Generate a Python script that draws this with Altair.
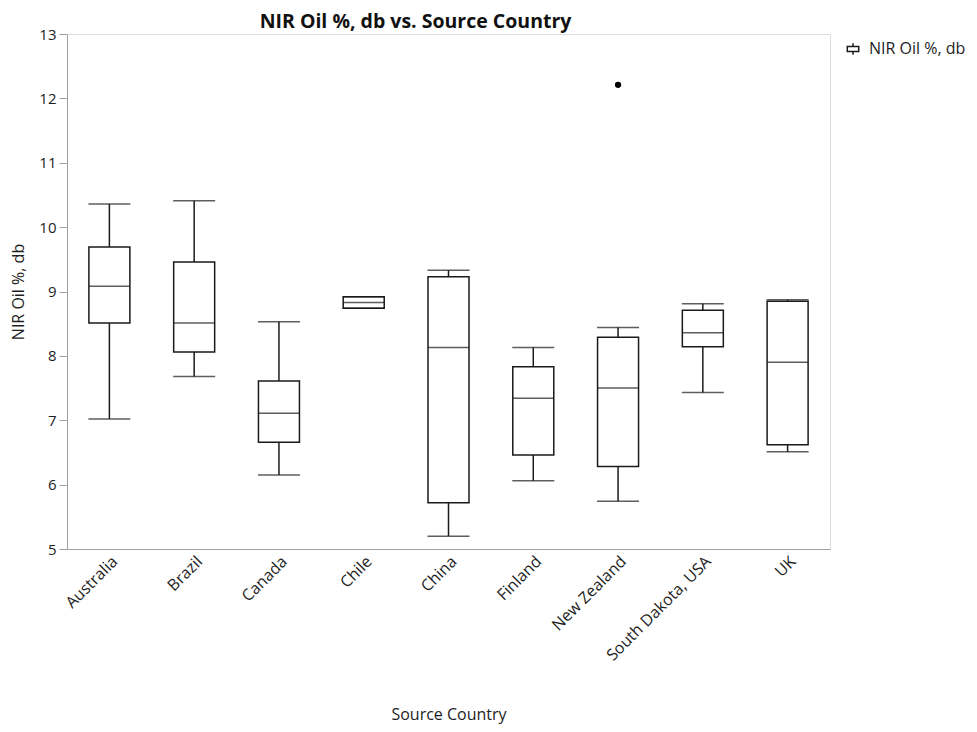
import altair as alt
import pandas as pd

countries = ["Australia", "Brazil", "Canada", "Chile", "China", "Finland",
             "New Zealand", "South Dakota, USA", "UK"]
whisker_low = [7.02, 7.68, 6.15, 8.74, 5.20, 6.06, 5.74, 7.43, 6.51]
q1 = [8.51, 8.06, 6.66, 8.74, 5.72, 6.46, 6.28, 8.14, 6.62]
median = [9.08, 8.51, 7.11, 8.83, 8.13, 7.34, 7.50, 8.36, 7.90]
q3 = [9.69, 9.46, 7.61, 8.92, 9.23, 7.83, 8.29, 8.71, 8.85]
whisker_high = [10.36, 10.41, 8.53, 8.92, 9.33, 8.13, 8.44, 8.81, 8.87]
outlier_country = ["New Zealand"]
outlier_value = [12.21]
series_name = "NIR Oil %, db"

df = pd.DataFrame({
    "country": countries, "lo": whisker_low, "q1": q1, "med": median,
    "q3": q3, "hi": whisker_high, "series": [series_name] * len(countries),
})
df_out = pd.DataFrame({"country": outlier_country, "value": outlier_value})

FONT = "Open Sans"
LINE = "#1a1a1a"
GRAY = "#a0a0a0"
TXT = "#1e1e1e"

x_enc = alt.X("country:N", sort=countries, scale=alt.Scale(paddingInner=0, paddingOuter=0),
              axis=alt.Axis(title="Source Country", labelAngle=-45, ticks=False,
                            labelPadding=4, titlePadding=43, domainColor=GRAY,
                            labelFontSize=16, titleFontSize=16, titleFontWeight="normal",
                            labelColor=TXT, titleColor=TXT, labelFont=FONT, titleFont=FONT))
y_scale = alt.Scale(domain=[5, 13], nice=False, zero=False)
y_axis = alt.Axis(title="NIR Oil %, db", values=list(range(5, 14)), grid=False,
                  tickSize=8, tickColor=GRAY, domainColor=GRAY, labelPadding=3,
                  titlePadding=12, labelFontSize=15, titleFontSize=16,
                  titleFontWeight="normal", labelColor=TXT, titleColor=TXT,
                  labelFont=FONT, titleFont=FONT)

base = alt.Chart(df)

whisk_lo = base.mark_rule(color=LINE, strokeWidth=1.5).encode(
    x=x_enc, y=alt.Y("lo:Q", scale=y_scale, axis=y_axis), y2="q1:Q")
whisk_hi = base.mark_rule(color=LINE, strokeWidth=1.5).encode(
    x=x_enc, y=alt.Y("q3:Q", scale=y_scale, axis=y_axis), y2="hi:Q")
box = base.mark_bar(size=41, fill="white", strokeWidth=1.5).encode(
    x=x_enc, y=alt.Y("q1:Q", scale=y_scale, axis=y_axis), y2="q3:Q",
    stroke=alt.Stroke("series:N", scale=alt.Scale(range=[LINE]),
                      legend=alt.Legend(title=None, orient="none", legendX=778, legendY=7,
                                        symbolType="M-1,-0.45H1V0.45H-1Z M0,-0.45V-1 M0,0.45V1",
                                        symbolSize=130, symbolStrokeWidth=1.5,
                                        symbolFillColor="white", labelFontSize=16,
                                        labelFont=FONT, labelColor=TXT, labelOffset=8)))
med_tick = base.mark_tick(size=41, thickness=1.5, color=LINE).encode(
    x=x_enc, y=alt.Y("med:Q", scale=y_scale, axis=y_axis))
cap_lo = base.mark_tick(size=42, thickness=1.5, color=LINE).encode(
    x=x_enc, y=alt.Y("lo:Q", scale=y_scale, axis=y_axis))
cap_hi = base.mark_tick(size=42, thickness=1.5, color=LINE).encode(
    x=x_enc, y=alt.Y("hi:Q", scale=y_scale, axis=y_axis))
outl = alt.Chart(df_out).mark_circle(size=40, color="black", opacity=1).encode(
    x=x_enc, y=alt.Y("value:Q", scale=y_scale, axis=y_axis))

chart = alt.layer(whisk_lo, whisk_hi, box, med_tick, cap_lo, cap_hi, outl).properties(
    width=763, height=515,
    title=alt.TitleParams("NIR Oil %, db vs. Source Country", font=FONT, fontSize=19.5,
                          fontWeight="bold", color="#111", anchor="middle", dx=-33,
                          offset=3, dy=8),
    autosize=alt.AutoSizeParams(type="none"),
    padding={"left": 59, "top": 26, "right": 138, "bottom": 175},
).configure_view(stroke=GRAY, strokeWidth=1).configure(background="white")

chart.save("out.html", embed_options={"renderer": "svg", "actions": False})
